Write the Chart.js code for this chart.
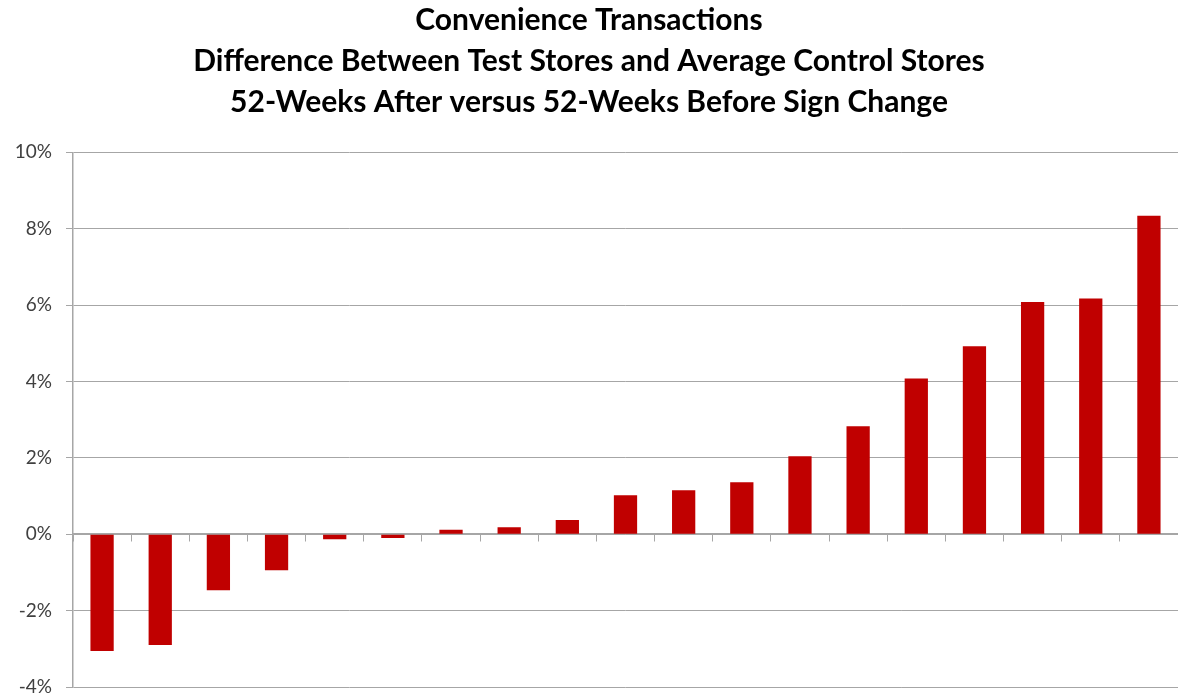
<!DOCTYPE html>
<html>
<head>
<meta charset="utf-8">
<script src="https://cdn.jsdelivr.net/npm/chart.js@4.4.1/dist/chart.umd.min.js"></script>
<style>
    body { margin: 0; background: #fff; }
    #wrap { width: 1178px; height: 698px; }
</style>
</head>
<body>
<div id="wrap"><canvas id="chart" width="1178" height="698"></canvas></div>
<script>
// Store index (no labels shown on the original axis)
const stores = ['1', '2', '3', '4', '5', '6', '7', '8', '9', '10',
    '11', '12', '13', '14', '15', '16', '17', '18', '19'];

// Difference in convenience transactions, percent
const diffPct = [-3.06, -2.9, -1.47, -0.94, -0.13, -0.1, 0.12, 0.18, 0.37, 1.02,
    1.15, 1.36, 2.04, 2.83, 4.08, 4.92, 6.08, 6.17, 8.34];

const titleLines = [
    'Convenience Transactions',
    'Difference Between Test Stores and Average Control Stores',
    '52-Weeks After versus 52-Weeks Before Sign Change'
];

const gridGrey = '#a6a6a6';
const fontFamily = 'Lato, "Open Sans", sans-serif';

const ctx = document.getElementById('chart').getContext('2d');
new Chart(ctx, {
    type: 'bar',
    data: {
        labels: stores,
        datasets: [{
            data: diffPct,
            backgroundColor: '#c00000',
            borderWidth: 0,
            barPercentage: 0.8,
            categoryPercentage: 0.5
        }]
    },
    options: {
        responsive: false,
        animation: false,
        layout: {
            padding: { left: 0, right: 0, top: 0, bottom: 11 }
        },
        plugins: {
            legend: { display: false },
            tooltip: { enabled: false },
            title: {
                display: true,
                text: titleLines,
                color: '#000',
                font: { family: fontFamily, size: 30, weight: 'bold', lineHeight: 1.37 },
                padding: { top: 0, bottom: 29 }
            }
        },
        scales: {
            x: {
                position: { y: 0 },
                grid: {
                    offset: true,
                    drawOnChartArea: false,
                    drawTicks: true,
                    tickLength: 7,
                    color: gridGrey
                },
                border: { display: true, color: gridGrey, width: 1.5 },
                ticks: { display: false }
            },
            y: {
                min: -4,
                max: 10,
                afterFit: (scale) => {
                    scale.width = 73;
                    scale.paddingTop = 0;
                    scale.paddingBottom = 0;
                },
                ticks: {
                    stepSize: 2,
                    padding: 14,
                    color: '#404040',
                    font: { family: fontFamily, size: 19 },
                    callback: (value) => value + '%'
                },
                grid: {
                    color: gridGrey,
                    lineWidth: 1,
                    tickLength: 7
                },
                border: { display: true, color: gridGrey, width: 1.5 }
            }
        }
    }
});
</script>
</body>
</html>
